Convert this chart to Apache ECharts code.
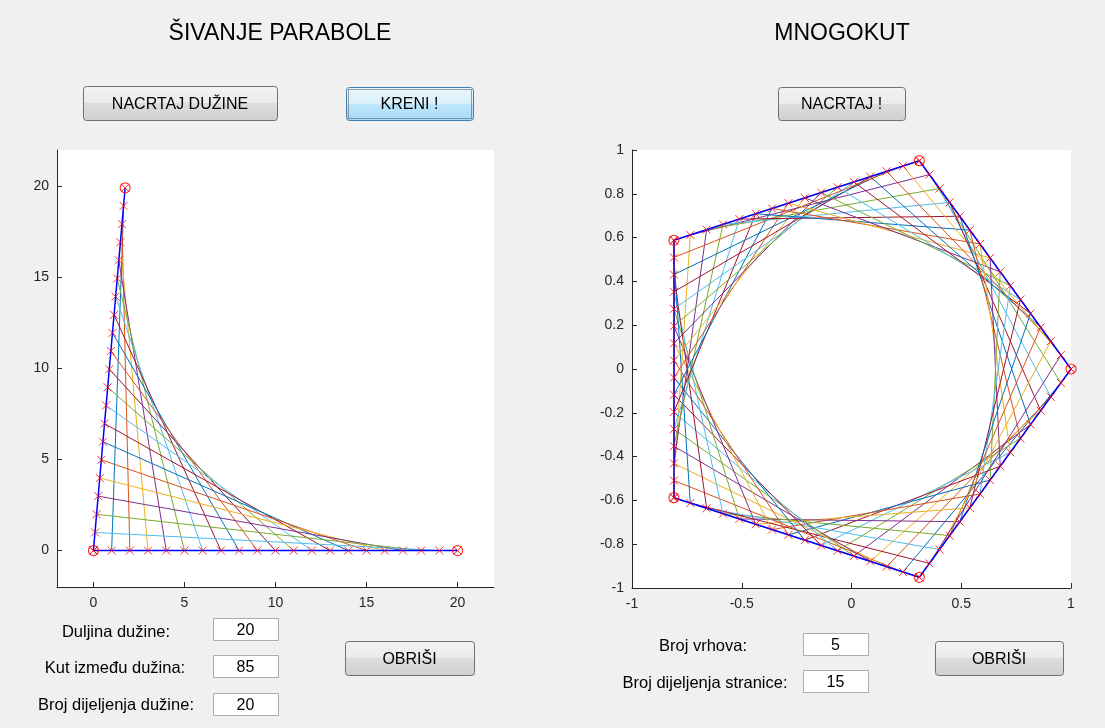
<!DOCTYPE html>
<html>
<head>
<meta charset="utf-8">
<script src="https://cdn.jsdelivr.net/npm/echarts@6/dist/echarts.min.js"></script>
<style>
html,body{margin:0;padding:0;background:#F0F0F0;}
#chart{width:1105px;height:728px;}
</style>
</head>
<body>
<div id="chart"></div>
<script>
// ---------- parameters shown in the GUI ----------
const segmentLength = [20];        // Duljina dužine
const segmentAngleDeg = [85];      // Kut između dužina
const segmentDivisions = [20];     // Broj dijeljenja dužine
const polygonVertices = [5];       // Broj vrhova
const sideDivisions = [15];        // Broj dijeljenja stranice

const leftTicks = [0, 5, 10, 15, 20];
const rightXTicks = [-1, -0.5, 0, 0.5, 1];
const rightYTicks = [-1, -0.8, -0.6, -0.4, -0.2, 0, 0.2, 0.4, 0.6, 0.8, 1];

const matlabColors = ['#0072BD', '#D95319', '#EDB120', '#7E2F8E', '#77AC30', '#4DBEEE', '#A2142F'];

// ---------- left: stitched parabola ----------
const L = segmentLength[0], n = segmentDivisions[0], ang = segmentAngleDeg[0] * Math.PI / 180;
const ptsA = [], ptsB = [];
for (let i = 0; i <= n; i++) {
  ptsA.push([i * L / n, 0]);
  ptsB.push([i * L / n * Math.cos(ang), i * L / n * Math.sin(ang)]);
}
const leftStitches = [];
let ci = 0;
const half = n / 2;
for (let i = 1; i <= half; i++) {
  leftStitches.push({coords: [ptsA[i], ptsB[n - i]], lineStyle: {color: matlabColors[ci++ % 7]}});
}
for (let i = half; i <= n - 1; i++) {
  leftStitches.push({coords: [ptsA[i], ptsB[n - i]], lineStyle: {color: matlabColors[ci++ % 7]}});
}
const leftSegments = [ptsA[n], ptsA[0], ptsB[n]];
const leftCrosses = ptsA.concat(ptsB);
const leftCircles = [ptsA[0], ptsA[n], ptsB[n]];

// ---------- right: polygon ----------
const N = polygonVertices[0], m = sideDivisions[0];
const verts = [];
for (let k = 0; k < N; k++) {
  const a = -2 * Math.PI * k / N;
  verts.push([Math.cos(a), Math.sin(a)]);
}
function sidePoint(k, t) {
  const p = verts[k % N], q = verts[(k + 1) % N];
  return [p[0] + t / m * (q[0] - p[0]), p[1] + t / m * (q[1] - p[1])];
}
const rightStitches = [];
let cj = 0;
for (let k = 0; k < N; k++) {
  for (let t = 1; t <= m; t++) {
    rightStitches.push({coords: [sidePoint(k, t), sidePoint(k + 1, t)], lineStyle: {color: matlabColors[cj++ % 7]}});
  }
}
const rightOutline = verts.concat([verts[0]]);
const rightCrosses = [];
for (let k = 0; k < N; k++) for (let t = 0; t <= m; t++) rightCrosses.push(sidePoint(k, t));
const rightCircles = verts.slice();

// ---------- chart ----------
const chart = echarts.init(document.getElementById('chart'), null, {renderer: 'canvas'});
const axisCol = '#262626';
const FONT = 'Liberation Sans, Arial, sans-serif';
function axisCommon(extra) {
  return Object.assign({
    type: 'value',
    axisLine: {show: true, onZero: false, lineStyle: {color: axisCol, width: 1}},
    axisTick: {show: true, inside: true, length: 5, lineStyle: {color: axisCol}},
    axisLabel: {color: axisCol, fontSize: 14, fontFamily: FONT, margin: 8},
    splitLine: {show: false}
  }, extra);
}
const crossSym = 'path://M0,0L10,10M10,0L0,10';
const crossStyle = {color: 'rgba(0,0,0,0)', borderColor: '#FF0000', borderWidth: 1};
const circStyle = {color: 'rgba(0,0,0,0)', borderColor: '#FF0000', borderWidth: 1.2};

function button(x, y, w, h, label, active) {
  const fill = active
    ? new echarts.graphic.LinearGradient(0, 0, 0, 1, [
        {offset: 0, color: '#EAF6FD'}, {offset: 0.5, color: '#D9F0FC'},
        {offset: 0.5, color: '#BEE6FD'}, {offset: 1, color: '#A7D9F5'}])
    : new echarts.graphic.LinearGradient(0, 0, 0, 1, [
        {offset: 0, color: '#F2F2F2'}, {offset: 0.5, color: '#EBEBEB'},
        {offset: 0.5, color: '#DDDDDD'}, {offset: 1, color: '#CFCFCF'}]);
  const els = [{
    type: 'rect', shape: {x: x + 0.5, y: y + 0.5, width: w, height: h, r: 3},
    style: {fill: fill, stroke: active ? '#3C7FB1' : '#707070', lineWidth: 1}
  }];
  if (active) {
    els.push({type: 'rect', shape: {x: x + 2.5, y: y + 2.5, width: w - 4, height: h - 4},
      style: {fill: null, stroke: '#444', lineWidth: 1, lineDash: [1, 1]}});
  }
  els.push({type: 'text', x: x + w / 2, y: y + h / 2 + 1.5,
    style: {text: label, fill: '#000', font: '16px ' + FONT, align: 'center', verticalAlign: 'middle'}});
  return els;
}
function editBox(x, y, w, h, val) {
  return [{type: 'rect', shape: {x: x + 0.5, y: y + 0.5, width: w, height: h},
      style: {fill: '#FFFFFF', stroke: '#ABADB3', lineWidth: 1}},
    {type: 'text', x: x + w / 2, y: y + h / 2 + 1.5,
      style: {text: String(val), fill: '#000', font: '16px ' + FONT, align: 'center', verticalAlign: 'middle'}}];
}
function label(cx, cy, txt, size) {
  return {type: 'text', x: cx, y: cy,
    style: {text: txt, fill: '#000', font: (size || 16.5) + 'px ' + FONT, align: 'center', verticalAlign: 'middle'}};
}

const graphics = [].concat(
  [label(280, 34, 'ŠIVANJE PARABOLE', 23), label(842, 34, 'MNOGOKUT', 23)],
  button(83, 86, 194, 34, 'NACRTAJ DUŽINE', false),
  button(346, 87, 127, 33, 'KRENI !', true),
  button(778, 87, 127, 33, 'NACRTAJ !', false),
  button(345, 641, 129, 34, 'OBRIŠI', false),
  button(935, 641, 128, 34, 'OBRIŠI', false),
  [label(116, 632, 'Duljina dužine:'), label(115, 668, 'Kut između dužina:'), label(116, 705, 'Broj dijeljenja dužine:')],
  editBox(213, 618, 65, 22, segmentLength[0]),
  editBox(213, 655, 65, 22, segmentAngleDeg[0]),
  editBox(213, 693, 65, 22, segmentDivisions[0]),
  [label(703, 646, 'Broj vrhova:'), label(705, 683, 'Broj dijeljenja stranice:')],
  editBox(803, 633, 65, 22, polygonVertices[0]),
  editBox(803, 670, 65, 22, sideDivisions[0])
);

chart.setOption({
  backgroundColor: '#F0F0F0',
  animation: false,
  grid: [
    {left: 57, top: 150, width: 437, height: 437, show: true, backgroundColor: '#FFFFFF', borderWidth: 0},
    {left: 632, top: 150, width: 439, height: 438, show: true, backgroundColor: '#FFFFFF', borderWidth: 0}
  ],
  xAxis: [
    axisCommon({gridIndex: 0, min: -2, max: 22,
      axisLabel: {color: axisCol, fontSize: 14, fontFamily: FONT, margin: 9, customValues: leftTicks},
      axisTick: {show: true, inside: true, length: 5, lineStyle: {color: axisCol}, customValues: leftTicks}}),
    axisCommon({gridIndex: 1, min: rightXTicks[0], max: rightXTicks[rightXTicks.length - 1],
      axisLabel: {color: axisCol, fontSize: 14, fontFamily: FONT, margin: 9, customValues: rightXTicks},
      axisTick: {show: true, inside: true, length: 5, lineStyle: {color: axisCol}, customValues: rightXTicks}})
  ],
  yAxis: [
    axisCommon({gridIndex: 0, min: -2, max: 22,
      axisLabel: {color: axisCol, fontSize: 14, fontFamily: FONT, margin: 8, customValues: leftTicks},
      axisTick: {show: true, inside: true, length: 5, lineStyle: {color: axisCol}, customValues: leftTicks}}),
    axisCommon({gridIndex: 1, min: rightYTicks[0], max: rightYTicks[rightYTicks.length - 1],
      axisLabel: {color: axisCol, fontSize: 14, fontFamily: FONT, margin: 8, customValues: rightYTicks},
      axisTick: {show: true, inside: true, length: 5, lineStyle: {color: axisCol}, customValues: rightYTicks}})
  ],
  series: [
    {type: 'lines', coordinateSystem: 'cartesian2d', xAxisIndex: 0, yAxisIndex: 0, silent: true,
      lineStyle: {width: 1, opacity: 1}, data: leftStitches, z: 2},
    {type: 'line', xAxisIndex: 0, yAxisIndex: 0, data: leftSegments, symbol: 'none', silent: true,
      lineStyle: {color: '#0000FF', width: 1.5}, z: 3},
    {type: 'scatter', xAxisIndex: 0, yAxisIndex: 0, data: leftCrosses, symbol: crossSym, symbolSize: 8,
      itemStyle: crossStyle, silent: true, z: 4},
    {type: 'scatter', xAxisIndex: 0, yAxisIndex: 0, data: leftCircles, symbol: 'circle', symbolSize: 10,
      itemStyle: circStyle, silent: true, z: 4},

    {type: 'lines', coordinateSystem: 'cartesian2d', xAxisIndex: 1, yAxisIndex: 1, silent: true,
      lineStyle: {width: 1, opacity: 1}, data: rightStitches, z: 2},
    {type: 'line', xAxisIndex: 1, yAxisIndex: 1, data: rightOutline, symbol: 'none', silent: true,
      lineStyle: {color: '#0000FF', width: 1.5}, z: 3},
    {type: 'scatter', xAxisIndex: 1, yAxisIndex: 1, data: rightCrosses, symbol: crossSym, symbolSize: 8,
      itemStyle: crossStyle, silent: true, z: 4},
    {type: 'scatter', xAxisIndex: 1, yAxisIndex: 1, data: rightCircles, symbol: 'circle', symbolSize: 10,
      itemStyle: circStyle, silent: true, z: 4}
  ],
  graphic: graphics
});
</script>
</body>
</html>
